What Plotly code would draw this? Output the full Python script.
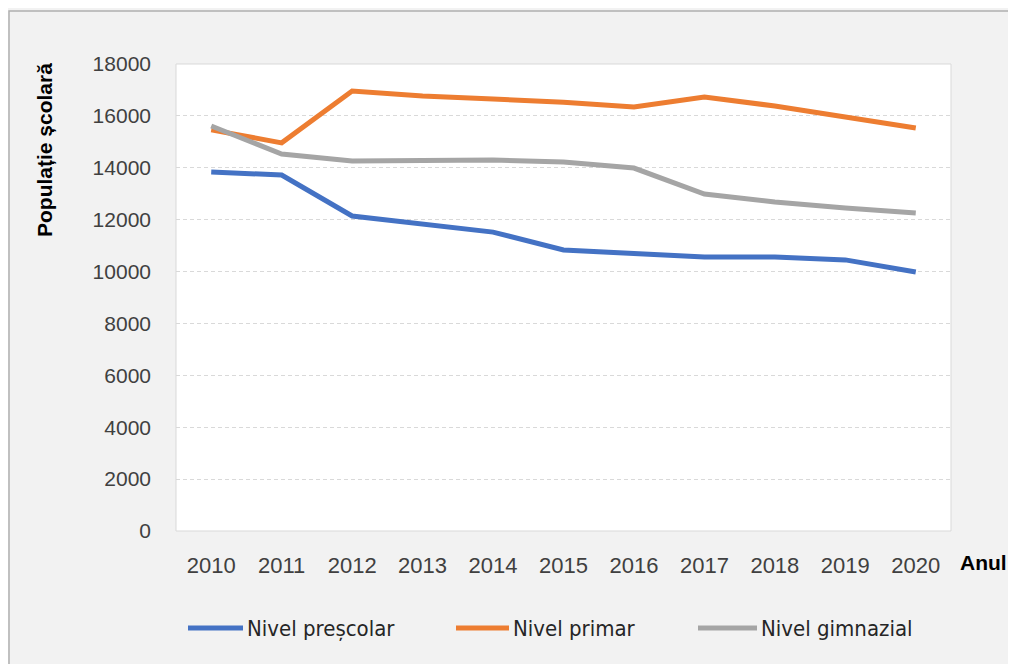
import plotly.graph_objects as go

years = [2010, 2011, 2012, 2013, 2014, 2015, 2016, 2017, 2018, 2019, 2020]
prescolar = [13840, 13720, 12140, 11830, 11520, 10830, 10710, 10560, 10560, 10450, 9980]
primar = [15460, 14960, 16960, 16770, 16650, 16530, 16340, 16730, 16380, 15960, 15530]
gimnazial = [15610, 14530, 14260, 14260, 14300, 14220, 13990, 12990, 12680, 12450, 12260]

names = ["Nivel preșcolar", "Nivel primar", "Nivel gimnazial"]
colors = ["#4472c4", "#ed7d31", "#a5a5a5"]
series = [prescolar, primar, gimnazial]

OFF = 8  # page body margin
W, H = 1016, 664
# plot area in reference (page) pixels
PL, PR, PT, PB = 176, 951, 64, 531
L, R, T, B = PL - OFF, W - (PR - OFF), PT - OFF, H - (PB - OFF)
pw, ph = PR - PL, PB - PT

def px2x(px):  # page px -> paper x
    return (px - PL) / pw

def py2y(py):  # page px -> paper y
    return (PB - py) / ph

fig = go.Figure()
for name, col, vals in zip(names, colors, series):
    fig.add_trace(go.Scatter(x=years, y=vals, mode="lines", name=name,
                             line=dict(color=col, width=5), showlegend=False))

font_main = "Liberation Sans, Arial, sans-serif"
font_leg = "DejaVu Sans Condensed, Liberation Sans, Arial, sans-serif"

shapes = [
    dict(type="rect", xref="paper", yref="paper", x0=0, x1=1, y0=0, y1=1,
         line=dict(color="#d9d9d9", width=1), fillcolor="rgba(0,0,0,0)"),
    dict(type="rect", xref="paper", yref="paper",
         x0=px2x(9), x1=px2x(1060), y0=py2y(700), y1=py2y(11),
         line=dict(color="#b0b0b0", width=1.5), fillcolor="rgba(0,0,0,0)"),
]
annotations = [
    dict(text="<b>Anul</b>", xref="paper", yref="paper", x=px2x(983), y=py2y(562),
         xanchor="center", yanchor="middle", showarrow=False,
         font=dict(size=21, color="#000000")),
    dict(text="<b>Populație școlară</b>", xref="paper", yref="paper", x=px2x(45), y=py2y(150),
         xanchor="center", yanchor="middle", showarrow=False, textangle=-90,
         font=dict(size=21, color="#000000")),
]
# legend: line sample + label
leg_line = [(188, 243), (456, 509), (698, 757)]
leg_text = [245, 511, 759]
leg_y = 628
for name, col, (x0, x1), tx in zip(names, colors, leg_line, leg_text):
    shapes.append(dict(type="line", xref="paper", yref="paper",
                       x0=px2x(x0), x1=px2x(x1), y0=py2y(leg_y), y1=py2y(leg_y),
                       line=dict(color=col, width=5)))
    annotations.append(dict(text=name, xref="paper", yref="paper", x=px2x(tx), y=py2y(leg_y),
                            xanchor="left", yanchor="middle", showarrow=False,
                            font=dict(family=font_leg, size=22, color="#262626")))

fig.update_layout(
    width=W, height=H,
    margin=dict(l=L, r=R, t=T, b=B),
    paper_bgcolor="#f2f2f2",
    plot_bgcolor="#ffffff",
    font=dict(family=font_main, size=22, color="#404040"),
    xaxis=dict(range=[2009.5, 2020.5], tickmode="array", tickvals=years,
               ticktext=[str(y) for y in years], showgrid=False, zeroline=False,
               showline=False, ticks="", ticklabelstandoff=19,
               tickfont=dict(size=22, color="#404040")),
    yaxis=dict(range=[0, 18000], tickvals=list(range(0, 18001, 2000)), tickformat="d",
               showgrid=True, gridcolor="#d9d9d9", griddash="4px,3px", gridwidth=1,
               zeroline=False, showline=False, ticks="", ticklabelstandoff=24,
               tickfont=dict(size=21, color="#404040")),
    shapes=shapes,
    annotations=annotations,
    showlegend=False,
)
fig.write_html("out.html")
